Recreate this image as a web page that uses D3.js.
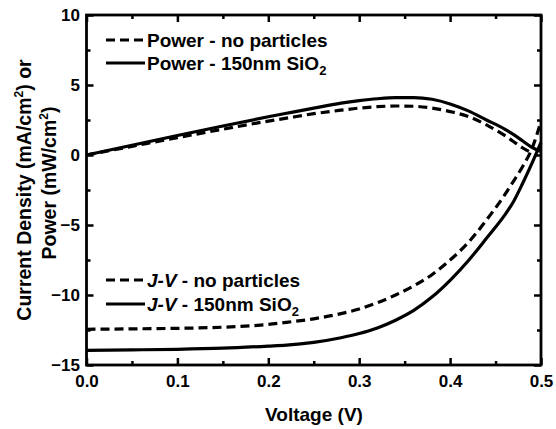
<!DOCTYPE html>
<html>
<head>
<meta charset="utf-8">
<script src="https://cdn.jsdelivr.net/npm/d3@7"></script>
<style>
  html, body { margin: 0; padding: 0; background: #fff; }
  svg { display: block; }
  text { font-family: "Liberation Sans", Arial, sans-serif; font-weight: bold; fill: #000; }
</style>
</head>
<body>
<svg id="chart" width="556" height="429"></svg>
<script>
// ---- data ----
const voltage = [0, 0.05, 0.1, 0.15, 0.2, 0.22, 0.25, 0.28, 0.30, 0.32, 0.34, 0.36, 0.38, 0.40, 0.42, 0.44, 0.46, 0.47, 0.48, 0.49, 0.50];
const jvNoParticles = [-12.45, -12.42, -12.38, -12.3, -12.1, -11.95, -11.7, -11.33, -11.0, -10.55, -10.0, -9.35, -8.55, -7.5, -6.25, -4.65, -2.85, -1.85, -0.8, 0.45, 2.4];
const jvSiO2 = [-13.95, -13.92, -13.88, -13.8, -13.65, -13.58, -13.38, -13.05, -12.75, -12.35, -11.8, -11.1, -10.15, -8.95, -7.55, -5.95, -4.3, -3.3, -2.0, -0.6, 0.9];
const powerNoParticles = [0, 0.62, 1.24, 1.84, 2.42, 2.63, 2.95, 3.2, 3.35, 3.45, 3.5, 3.48, 3.35, 3.1, 2.75, 2.15, 1.4, 0.95, 0.5, 0.15, null];
const powerSiO2 = [0, 0.7, 1.39, 2.07, 2.73, 2.98, 3.35, 3.7, 3.88, 4.02, 4.1, 4.1, 3.98, 3.65, 3.15, 2.5, 1.85, 1.45, 1.0, 0.55, 0.25];

const xMajor = [0, 0.1, 0.2, 0.3, 0.4, 0.5];
const xMinor = [0.05, 0.15, 0.25, 0.35, 0.45];
const yMajor = [-15, -10, -5, 0, 5, 10];
const yMinor = [-12.5, -7.5, -2.5, 2.5, 7.5];

const series = [
  { values: powerNoParticles, dashed: true },
  { values: powerSiO2, dashed: false },
  { values: jvNoParticles, dashed: true },
  { values: jvSiO2, dashed: false }
];

// ---- layout ----
const mLeft = 86.5, mRight = 541, mTop = 15, mBottom = 365;
const svg = d3.select("#chart");

const x = d3.scaleLinear().domain([0, 0.5]).range([mLeft, mRight]);
const y = d3.scaleLinear().domain([-15, 10]).range([mBottom, mTop]);

const fmtX = d3.format(".1f");
const fmtY = d3.format("d");

// bottom axis (labels)
svg.append("g").attr("transform", `translate(0,${mBottom})`)
  .call(d3.axisBottom(x).tickValues(xMajor).tickFormat(fmtX).tickSizeInner(-7).tickSizeOuter(0).tickPadding(10));
svg.append("g").attr("transform", `translate(0,${mBottom})`)
  .call(d3.axisBottom(x).tickValues(xMinor).tickFormat("").tickSizeInner(-4).tickSizeOuter(0));
// top axis
svg.append("g").attr("transform", `translate(0,${mTop})`)
  .call(d3.axisTop(x).tickValues(xMajor).tickFormat("").tickSizeInner(-7).tickSizeOuter(0));
svg.append("g").attr("transform", `translate(0,${mTop})`)
  .call(d3.axisTop(x).tickValues(xMinor).tickFormat("").tickSizeInner(-4).tickSizeOuter(0));
// left axis (labels)
svg.append("g").attr("transform", `translate(${mLeft},0)`)
  .call(d3.axisLeft(y).tickValues(yMajor).tickFormat(fmtY).tickSizeInner(-7).tickSizeOuter(0).tickPadding(6.5));
svg.append("g").attr("transform", `translate(${mLeft},0)`)
  .call(d3.axisLeft(y).tickValues(yMinor).tickFormat("").tickSizeInner(-4).tickSizeOuter(0));
// right axis
svg.append("g").attr("transform", `translate(${mRight},0)`)
  .call(d3.axisRight(y).tickValues(yMajor).tickFormat("").tickSizeInner(-7).tickSizeOuter(0));
svg.append("g").attr("transform", `translate(${mRight},0)`)
  .call(d3.axisRight(y).tickValues(yMinor).tickFormat("").tickSizeInner(-4).tickSizeOuter(0));

svg.selectAll(".domain").remove();
svg.selectAll(".tick line").attr("stroke", "#000").attr("stroke-width", 2.5);
svg.selectAll(".tick text").attr("font-size", 17).attr("font-weight", "bold")
  .attr("font-family", "'Liberation Sans', Arial, sans-serif").attr("fill", "#000");

// curves
const line = d3.line()
  .defined(d => d[1] != null)
  .x(d => x(d[0]))
  .y(d => y(d[1]))
  .curve(d3.curveMonotoneX);

series.forEach(s => {
  svg.append("path")
    .datum(voltage.map((v, i) => [v, s.values[i]]))
    .attr("d", line)
    .attr("fill", "none")
    .attr("stroke", "#000")
    .attr("stroke-width", 3.2)
    .attr("stroke-dasharray", s.dashed ? "9,5" : null);
});

// frame
svg.append("rect")
  .attr("x", mLeft).attr("y", mTop)
  .attr("width", mRight - mLeft).attr("height", mBottom - mTop)
  .attr("fill", "none").attr("stroke", "#000").attr("stroke-width", 2.8);

// axis titles
svg.append("text")
  .attr("x", 314).attr("y", 421)
  .attr("text-anchor", "middle").attr("font-size", 19)
  .text("Voltage (V)");

const yt1 = svg.append("text")
  .attr("transform", `translate(30.5,190) rotate(-90)`)
  .attr("text-anchor", "middle").attr("font-size", 19.5);
yt1.append("tspan").text("Current Density (mA/cm");
yt1.append("tspan").attr("font-size", 12).attr("dy", -8).text("2");
yt1.append("tspan").attr("dy", 8).text(") or");

const yt2 = svg.append("text")
  .attr("transform", `translate(55.5,183) rotate(-90)`)
  .attr("text-anchor", "middle").attr("font-size", 19.5);
yt2.append("tspan").text("Power (mW/cm");
yt2.append("tspan").attr("font-size", 12).attr("dy", -8).text("2");
yt2.append("tspan").attr("dy", 8).text(")");

// legends
const legends = [
  { y: 40, dashed: true, parts: [["Power - no particles", false]] },
  { y: 63, dashed: false, parts: [["Power - 150nm SiO", false]], sub: true },
  { y: 280, dashed: true, parts: [["J-V", true], [" - no particles", false]] },
  { y: 304, dashed: false, parts: [["J-V", true], [" - 150nm SiO", false]], sub: true }
];

legends.forEach(l => {
  svg.append("line")
    .attr("x1", 106).attr("x2", 145)
    .attr("y1", l.y).attr("y2", l.y)
    .attr("stroke", "#000").attr("stroke-width", 3)
    .attr("stroke-dasharray", l.dashed ? "9,5" : null);
  const t = svg.append("text")
    .attr("x", 147).attr("y", l.y + 6.5)
    .attr("font-size", 19);
  l.parts.forEach(p => {
    t.append("tspan").attr("font-style", p[1] ? "italic" : "normal").text(p[0]);
  });
  if (l.sub) {
    t.append("tspan").attr("font-size", 13).attr("dy", 5).text("2");
  }
});
</script>
</body>
</html>
